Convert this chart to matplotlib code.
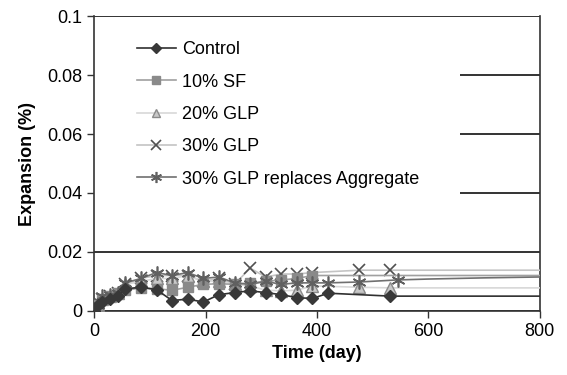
import matplotlib
matplotlib.use('Agg')
import matplotlib.pyplot as plt
import numpy as np

plt.rcParams['font.family'] = ['Liberation Sans', 'DejaVu Sans']

# measured points (marked) + trailing points drawn as line only
control_days = [0, 7, 14, 28, 42, 56, 84, 112, 140, 168, 196, 224, 252, 280, 308, 336, 364, 392, 420, 532, 800]
control_vals = [0, 0.002, 0.003, 0.004, 0.005, 0.0075, 0.008, 0.0072, 0.0035, 0.004, 0.003, 0.0055, 0.0062,
                0.0068, 0.0062, 0.0055, 0.0045, 0.0042, 0.006, 0.005, 0.005]

sf_days = [0, 7, 14, 28, 42, 56, 84, 112, 140, 168, 196, 224, 252, 280, 308, 336, 364, 392, 800]
sf_vals = [0, 0.002, 0.004, 0.005, 0.006, 0.007, 0.0078, 0.0075, 0.007, 0.008, 0.009, 0.0092, 0.009,
           0.0095, 0.01, 0.0105, 0.011, 0.012, 0.012]

glp20_days = [0, 7, 14, 28, 42, 56, 84, 112, 140, 168, 196, 224, 252, 280, 308, 336, 364, 392, 476, 532, 800]
glp20_vals = [0, 0.002, 0.004, 0.005, 0.006, 0.009, 0.01, 0.011, 0.011, 0.012, 0.01, 0.01, 0.009,
              0.0085, 0.007, 0.0068, 0.007, 0.0085, 0.008, 0.0078, 0.0078]

glp30_days = [0, 7, 14, 28, 42, 56, 84, 112, 140, 168, 196, 224, 252, 280, 308, 336, 364, 392, 476, 532, 800]
glp30_vals = [0, 0.003, 0.004, 0.005, 0.006, 0.009, 0.011, 0.012, 0.012, 0.012, 0.01, 0.011, 0.009,
              0.0145, 0.0115, 0.0125, 0.0125, 0.013, 0.0138, 0.0138, 0.0138]

agg_days = [0, 7, 14, 28, 42, 56, 84, 112, 140, 168, 196, 224, 252, 280, 308, 336, 364, 392, 420, 476, 545,
            600, 700, 800]
agg_vals = [0, 0.002, 0.005, 0.0055, 0.006, 0.0095, 0.011, 0.013, 0.012, 0.013, 0.011, 0.0115, 0.0095,
            0.009, 0.01, 0.009, 0.0095, 0.0095, 0.0095, 0.0098, 0.0105, 0.0108, 0.0112, 0.0115]

fig = plt.figure(figsize=(5.67, 3.75), dpi=100)
ax = fig.add_axes([0.166, 0.171, 0.786, 0.786])

def marks(days):
    return [d <= 550 for d in days]

ax.plot(glp30_days, glp30_vals, color='#c4c4c4', lw=1.2, marker='x', ms=9, mew=1.2,
        mec='#505050', markevery=marks(glp30_days), label='30% GLP', zorder=3)
ax.plot(glp20_days, glp20_vals, color='#d8d8d8', lw=1.2, marker='^', ms=8, mfc='#c8c8c8',
        mec='#8a8a8a', markevery=marks(glp20_days), label='20% GLP', zorder=3)
ax.plot(sf_days, sf_vals, color='#a0a0a0', lw=1.2, marker='s', ms=7, mfc='#8a8a8a', mec='#8a8a8a',
        markevery=marks(sf_days), label='10% SF', zorder=3)
ax.plot(agg_days, agg_vals, color='#707070', lw=1.2, marker=(6, 2, 0), ms=10, mew=1.2,
        mec='#606060', markevery=marks(agg_days), label='30% GLP replaces Aggregate', zorder=3)
ax.plot(control_days, control_vals, color='#303030', lw=1.2, marker='D', ms=6, mfc='#383838',
        mec='#383838', markevery=marks(control_days), label='Control', zorder=4)

ax.set_xlim(0, 800)
ax.set_ylim(0, 0.1)
ax.set_xticks([0, 200, 400, 600, 800])
ax.set_yticks([0, 0.02, 0.04, 0.06, 0.08, 0.1])
ax.set_yticklabels(['0', '0.02', '0.04', '0.06', '0.08', '0.1'])
ax.tick_params(labelsize=13, direction='out', length=5, width=1, color='#333333')
ax.grid(True, axis='y', color='#111111', lw=1.2, zorder=0)
ax.set_axisbelow(True)
ax.spines['top'].set_visible(False)
for s in ['left', 'bottom', 'right']:
    ax.spines[s].set_color('#333333')
    ax.spines[s].set_linewidth(1.2)

ax.set_xlabel('Time (day)', fontsize=13, fontweight='bold')
ax.set_ylabel('Expansion (%)', fontsize=13, fontweight='bold', labelpad=8)

# white box behind legend hides the grid
ax.add_patch(plt.Rectangle((0.0, 0.36), 0.82, 0.6, transform=ax.transAxes,
                           facecolor='white', edgecolor='none', zorder=1))

h, l = ax.get_legend_handles_labels()
order = [4, 2, 1, 0, 3]
leg = ax.legend([h[i] for i in order], [l[i] for i in order], loc='upper left',
                bbox_to_anchor=(0.075, 0.945), frameon=False, fontsize=13, markerscale=0.8,
                handlelength=2.2, handletextpad=0.3, labelspacing=0.85, borderpad=0)
leg.set_zorder(5)

plt.savefig('out.png', dpi=100)
